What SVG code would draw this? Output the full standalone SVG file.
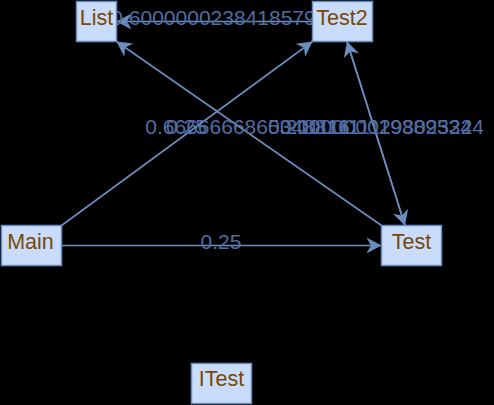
<svg xmlns="http://www.w3.org/2000/svg" width="494" height="405" viewBox="0 0 494 405">
<style>
.node rect{fill:#c9dcfb;stroke:#6c8ebf;stroke-width:1.5}
.node text{font-family:"Liberation Sans",Arial,sans-serif;font-size:21.5px;fill:#7a4800;text-anchor:middle}
.edge path{fill:none;stroke:#6c8ebf;stroke-width:1.6}
.edge text{font-family:"Liberation Sans",Arial,sans-serif;font-size:21px;fill:#4f6da3;text-anchor:middle}
</style>
<defs>
<marker id="arr" viewBox="0 0 15 16" refX="15" refY="8" markerWidth="15" markerHeight="16" markerUnits="userSpaceOnUse" orient="auto">
<path d="M15,8 L0,0 L4.5,8 L0,16 Z" fill="#6c8ebf"/>
</marker>
</defs>
<rect x="0" y="0" width="494" height="405" fill="#000000"/>
<g id="connectors">
<g class="edge" id="e-test2-list"><path d="M312.5,21.5 L116.5,21.5" marker-end="url(#arr)"/><text x="213.5" y="24.5">0.6000000238418579</text></g>
<g class="edge" id="e-test-list"><path d="M381.5,225.5 L116.5,41.5" marker-end="url(#arr)"/><text x="247.5" y="133.5">0.6666666865348816</text></g>
<g class="edge" id="e-main-test2"><path d="M61.5,225.5 L312.5,41.5" marker-end="url(#arr)"/><text x="186.5" y="133.5">0.25</text></g>
<g class="edge" id="e-main-test"><path d="M61.5,245.5 L381.5,245.5" marker-end="url(#arr)"/><text x="221" y="248.5">0.25</text></g>
<g class="edge" id="e-test-test2"><path d="M405,225.5 L347,41.5" marker-end="url(#arr)"/><text x="376" y="133.5">0.20000000298023224</text></g>
<g class="edge" id="e-test2-test"><path d="M347,41.5 L405,225.5" marker-end="url(#arr)"/><text x="376" y="133.5">0.1111111119389534</text></g>
</g>
<g class="node" id="List"><rect x="76.5" y="1.5" width="40" height="40"/><text x="96.5" y="24.5">List</text></g>
<g class="node" id="Test2"><rect x="312.5" y="1.5" width="60" height="40"/><text x="342" y="24.5">Test2</text></g>
<g class="node" id="Main"><rect x="1.5" y="225.5" width="60" height="40"/><text x="30.5" y="248.5">Main</text></g>
<g class="node" id="Test"><rect x="381.5" y="225.5" width="60" height="40"/><text x="411.5" y="248.5">Test</text></g>
<g class="node" id="ITest"><rect x="191.5" y="363.5" width="60" height="40"/><text x="221.5" y="386">ITest</text></g>
</svg>
